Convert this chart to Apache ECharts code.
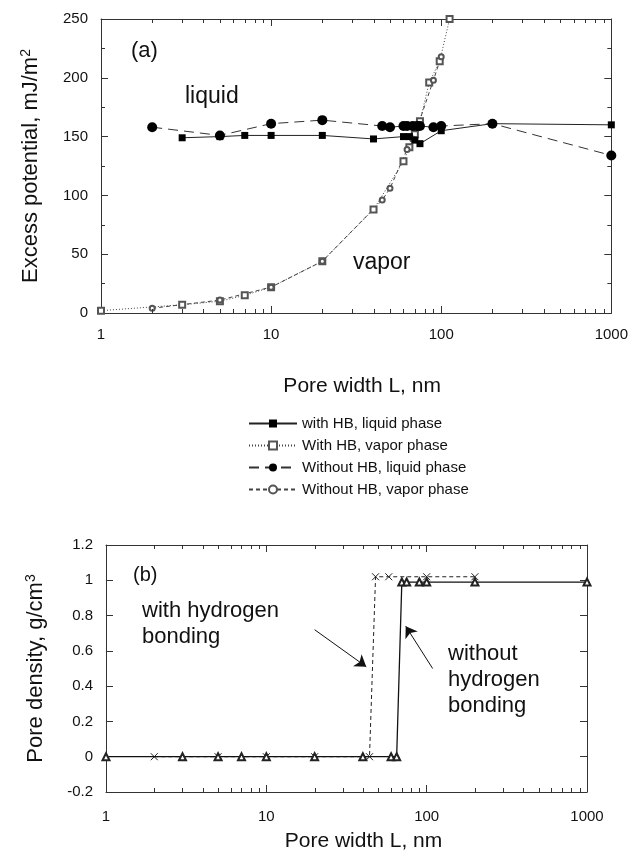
<!DOCTYPE html>
<html><head><meta charset="utf-8">
<script src="https://cdn.jsdelivr.net/npm/echarts@6/dist/echarts.min.js"></script>
<style>html,body{margin:0;padding:0;background:#fff}#c{width:631px;height:854px}</style>
</head><body><div id="c"></div>
<script>
// ---- Panel (a): excess potential (mJ/m2) vs pore width (nm)
const xLiqHB = [3, 5, 7, 10, 20, 40, 60, 65, 70, 75, 100, 200, 1000];
const yLiqHB = [149, 150, 151, 151, 151, 148, 150, 150, 147, 144, 155, 161, 160];
const xVapHB = [1, 3, 5, 7, 10, 20, 40, 60, 65, 70, 75, 85, 98, 112];
const yVapHB = [2, 7, 10, 15, 22, 44, 88, 129, 141, 152, 163, 196, 214, 250];
const xLiqNoHB = [2, 5, 10, 20, 45, 50, 60, 63, 68, 72, 75, 90, 100, 200, 1000];
const yLiqNoHB = [158, 151, 161, 164, 159, 158, 159, 159, 159, 159, 159, 158, 159, 161, 134];
const xVapNoHB = [2, 5, 10, 20, 45, 50, 63, 68, 72, 90, 100];
const yVapNoHB = [4, 11, 22, 44, 96, 106, 139, 148, 157, 198, 218];
// ---- Panel (b): pore density (g/cm3) vs pore width (nm)
const xDenHB = [2, 5, 10, 20, 44, 48, 58, 100, 200];
const yDenHB = [0, 0, 0, 0, 0, 1.02, 1.02, 1.02, 1.02];
const xDenNoHB = [1, 3, 5, 7, 10, 20, 40, 60, 65, 70, 75, 90, 100, 200, 1000];
const yDenNoHB = [0, 0, 0, 0, 0, 0, 0, 0, 0, 0.99, 0.99, 0.99, 0.99, 0.99, 0.99];
// arrows in panel (b) (data coordinates: start, end)
const arrowHB = [[20, 0.72], [42, 0.51]];
const arrowNoHB = [[109, 0.50], [74, 0.74]];
// log-axis minor tick values
const minorX = [2,3,4,5,6,7,8,9,20,30,40,50,60,70,80,90,200,300,400,500,600,700,800,900];

const FF = 'Liberation Sans, Arial, Helvetica, sans-serif';
const zip = (a, b) => a.map((v, i) => [v, b[i]]);
const chart = echarts.init(document.getElementById('c'), null, {renderer: 'canvas'});

function minorTicks(gi, yRef, color) {
  return {
    type: 'custom', xAxisIndex: gi * 2, yAxisIndex: gi * 2, silent: true, z: 10,
    data: minorX.map(v => [v, yRef]),
    renderItem: function (params, api) {
      const cs = params.coordSys;
      const px = Math.round(api.coord([api.value(0), yRef])[0]) + 0.5;
      const yb = cs.y + cs.height, yt = cs.y;
      return {type: 'group', children: [
        {type: 'line', shape: {x1: px, y1: yb, x2: px, y2: yb - 4}, style: {stroke: color, lineWidth: 1}},
        {type: 'line', shape: {x1: px, y1: yt, x2: px, y2: yt + 4}, style: {stroke: color, lineWidth: 1}}
      ]};
    }
  };
}

const axisCol = '#333';
function xAx(gi, pos, nameStr, pad, gap, lblMargin) {
  const o = {
    type: 'log', logBase: 10, min: 1, max: 1000, gridIndex: gi, position: pos,
    axisLine: {show: true, onZero: false, lineStyle: {color: axisCol, width: 1}},
    axisTick: {show: true, inside: true, length: 7, lineStyle: {color: axisCol}},
    splitLine: {show: false},
    axisLabel: {show: pos === 'bottom', fontFamily: FF, fontSize: 15, color: '#111', margin: lblMargin,
      formatter: v => String(Math.round(v))}
  };
  if (nameStr) {
    o.name = nameStr; o.nameLocation = 'middle'; o.nameGap = gap;
    o.nameTextStyle = {fontFamily: FF, fontSize: 21, color: '#111', padding: [0, 0, 0, pad]};
  }
  return o;
}
function yAx(gi, pos, min, max, interval, minor, nameStr, gap, sup) {
  const o = {
    type: 'value', gridIndex: gi, position: pos, min: min, max: max, interval: interval,
    axisLine: {show: true, onZero: false, lineStyle: {color: axisCol, width: 1}},
    axisTick: {show: true, inside: true, length: 7, lineStyle: {color: axisCol}},
    minorTick: {show: minor, splitNumber: 2, length: 4, lineStyle: {color: axisCol}},
    splitLine: {show: false}, minorSplitLine: {show: false},
    axisLabel: {show: pos === 'left', fontFamily: FF, fontSize: 15, color: '#111', margin: 13}
  };
  if (nameStr) {
    o.name = nameStr + '{s|' + sup + '}'; o.nameLocation = 'middle'; o.nameGap = gap;
    o.nameTextStyle = {fontFamily: FF, fontSize: 22, color: '#111',
      rich: {s: {fontFamily: FF, fontSize: 14, color: '#111', verticalAlign: 'top', padding: [0, 0, 10, 0]}}};
  }
  return o;
}

const option = {
  animation: false,
  backgroundColor: '#fff',
  grid: [
    {left: 101, top: 19, width: 511, height: 294},
    {left: 106, top: 545, width: 481, height: 247}
  ],
  xAxis: [
    xAx(0, 'bottom', 'Pore width L, nm', 12, 63, 14),
    xAx(0, 'top'),
    xAx(1, 'bottom', 'Pore width L, nm', 34, 39, 17),
    xAx(1, 'top')
  ],
  yAxis: [
    yAx(0, 'left', 0, 250, 50, true, 'Excess potential, mJ/m', 58, '2'),
    yAx(0, 'right', 0, 250, 50, true),
    yAx(1, 'left', -0.2, 1.2, 0.2, false, 'Pore density, g/cm', 58, '3'),
    yAx(1, 'right', -0.2, 1.2, 0.2, false)
  ],
  legend: {
    orient: 'vertical', left: 243, top: 411, itemWidth: 48, itemHeight: 10, itemGap: 7,
    textStyle: {fontFamily: FF, fontSize: 15, color: '#111'},
    data: ['with HB, liquid phase', 'With HB, vapor phase', 'Without HB, liquid phase', 'Without HB, vapor phase']
  },
  series: [
    {name: 'with HB, liquid phase', type: 'line', xAxisIndex: 0, yAxisIndex: 0, data: zip(xLiqHB, yLiqHB),
     symbol: 'rect', symbolSize: 7, itemStyle: {color: '#000'}, lineStyle: {color: '#222', width: 1, type: 'solid'}, z: 4},
    {name: 'With HB, vapor phase', type: 'line', xAxisIndex: 0, yAxisIndex: 0, data: zip(xVapHB, yVapHB),
     symbol: 'emptyRect', symbolSize: 6, itemStyle: {color: '#555', borderWidth: 1}, lineStyle: {color: '#444', width: 1, type: [1, 2]}, z: 3},
    {name: 'Without HB, liquid phase', type: 'line', xAxisIndex: 0, yAxisIndex: 0, data: zip(xLiqNoHB, yLiqNoHB),
     symbol: 'circle', symbolSize: 10, itemStyle: {color: '#000'}, lineStyle: {color: '#333', width: 1, type: [10, 6]}, z: 5},
    {name: 'Without HB, vapor phase', type: 'line', xAxisIndex: 0, yAxisIndex: 0, data: zip(xVapNoHB, yVapNoHB),
     symbol: 'emptyCircle', symbolSize: 5, itemStyle: {color: '#555', borderWidth: 1}, lineStyle: {color: '#444', width: 1, type: [4, 3]}, z: 3},
    {name: 'with hydrogen bonding', type: 'line', xAxisIndex: 2, yAxisIndex: 2, data: zip(xDenHB, yDenHB),
     symbol: 'path://M0,0L10,10M10,0L0,10', symbolSize: 7,
     itemStyle: {color: 'rgba(0,0,0,0)', borderColor: '#222', borderWidth: 1},
     lineStyle: {color: '#222', width: 1, type: [4, 3]}, z: 3},
    {name: 'without hydrogen bonding', type: 'line', xAxisIndex: 2, yAxisIndex: 2, data: zip(xDenNoHB, yDenNoHB),
     symbol: 'emptyTriangle', symbolSize: 7, itemStyle: {color: '#222', borderWidth: 1},
     lineStyle: {color: '#111', width: 1.3, type: 'solid'}, z: 4,
     markLine: {
       silent: true, symbol: ['none', 'arrow'], symbolSize: 11, label: {show: false},
       lineStyle: {color: '#111', width: 1, type: 'solid'},
       data: [
         [{coord: arrowHB[0]}, {coord: arrowHB[1]}],
         [{coord: arrowNoHB[0]}, {coord: arrowNoHB[1]}]
       ]
     }},
    minorTicks(0, 100, axisCol),
    minorTicks(1, 0.5, axisCol)
  ],
  graphic: [
    {type: 'text', left: 131, top: 40, style: {text: '(a)', font: '22px ' + FF, fill: '#111'}},
    {type: 'text', left: 185, top: 85, style: {text: 'liquid', font: '23px ' + FF, fill: '#111'}},
    {type: 'text', left: 353, top: 251, style: {text: 'vapor', font: '23px ' + FF, fill: '#111'}},
    {type: 'text', left: 133, top: 565, style: {text: '(b)', font: '20px ' + FF, fill: '#111'}},
    {type: 'text', left: 142, top: 598, style: {text: 'with hydrogen\nbonding', font: '22px ' + FF, lineHeight: 26, fill: '#111'}},
    {type: 'text', left: 448, top: 641, style: {text: 'without\nhydrogen\nbonding', font: '22px ' + FF, lineHeight: 26, fill: '#111'}}
  ]
};
chart.setOption(option);
</script></body></html>
